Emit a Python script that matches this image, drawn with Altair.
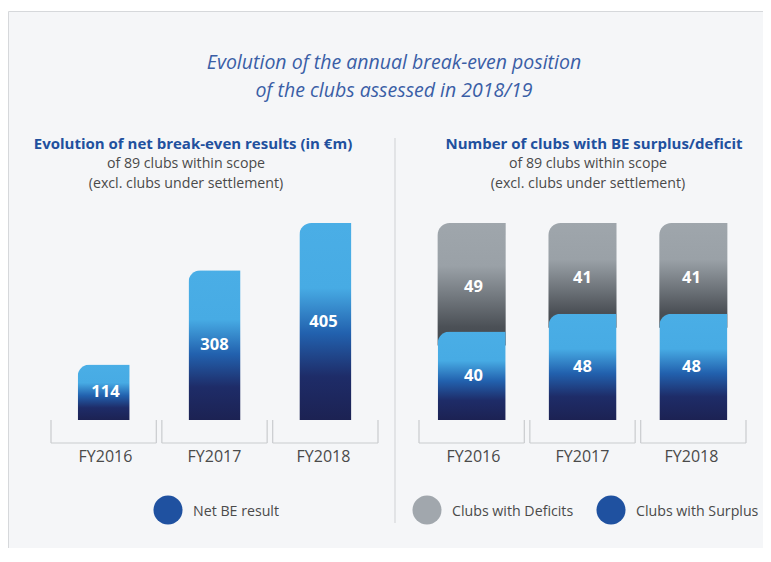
import altair as alt
import pandas as pd

# ---------------- data ----------------
years = ["FY2016", "FY2017", "FY2018"]
net_be = [114, 308, 405]          # net break-even result, EUR m
clubs_surplus = [40, 48, 48]
clubs_deficit = [49, 41, 41]

main_title = ["Evolution of the annual break-even position",
              "of the clubs assessed in 2018/19"]
left_head = "Evolution of net break-even results (in €m)"
right_head = "Number of clubs with BE surplus/deficit"
sub_lines = ["of 89 clubs within scope", "(excl. clubs under settlement)"]
legend_left = "Net BE result"
legend_deficit = "Clubs with Deficits"
legend_surplus = "Clubs with Surplus"

left_df = pd.DataFrame({"year": years, "net": net_be})
right_df = pd.DataFrame({"year": years, "surplus": clubs_surplus, "deficit": clubs_deficit})
one = pd.DataFrame({"k": [0]})

# ---------------- style ----------------
FONT = "Open Sans"
W, H = 755, 540
TITLE_BLUE = "#3a5ea6"
HEAD_BLUE = "#21509e"
TEXT_GREY = "#4a4a4a"
BRACKET = "#c9cbce"

blue_grad = alt.Gradient(
    gradient="linear", x1=0, y1=0, x2=0, y2=1,
    stops=[
        alt.GradientStop(offset=0, color="#4aaee6"),
        alt.GradientStop(offset=0.33, color="#47abe4"),
        alt.GradientStop(offset=0.56, color="#2261ae"),
        alt.GradientStop(offset=0.78, color="#1e2c68"),
        alt.GradientStop(offset=1, color="#1c2253"),
    ],
)
grey_grad = alt.Gradient(
    gradient="linear", x1=0, y1=0, x2=0, y2=1,
    stops=[
        alt.GradientStop(offset=0, color="#9fa6ac"),
        alt.GradientStop(offset=0.35, color="#9aa1a7"),
        alt.GradientStop(offset=0.85, color="#4b5056"),
        alt.GradientStop(offset=1, color="#43474c"),
    ],
)

Y0, YTOP = 412, 215
xl = alt.Scale(domain=years, range=[43, 370], paddingInner=0.05, paddingOuter=0)
xr = alt.Scale(domain=years, range=[411, 738], paddingInner=0.05, paddingOuter=0)
yl = alt.Scale(domain=[0, max(net_be)], range=[Y0, YTOP], nice=False, zero=True)
total_max = max(s + d for s, d in zip(clubs_surplus, clubs_deficit))
yr = alt.Scale(domain=[0, total_max], range=[Y0, YTOP], nice=False, zero=True)

layers = []

# background panel
layers.append(
    alt.Chart(one).mark_rect(fill="#f5f6f8", stroke="#d6d8db", strokeWidth=1).encode(
        x=alt.value(0.5), x2=alt.value(1000), y=alt.value(3.5), y2=alt.value(1000)
    )
)

# titles
layers.append(
    alt.Chart(one).mark_text(text=main_title, font=FONT, fontSize=19.5, fontStyle="italic",
                             color=TITLE_BLUE, align="center", baseline="alphabetic",
                             lineHeight=27.5).encode(x=alt.value(386), y=alt.value(61))
)
for head, hx, sx in [(left_head, 185, 178), (right_head, 586, 580)]:
    layers.append(
        alt.Chart(one).mark_text(text=head, font=FONT, fontSize=15, fontWeight="bold",
                                 color=HEAD_BLUE, align="center", baseline="alphabetic"
                                 ).encode(x=alt.value(hx), y=alt.value(141))
    )
    layers.append(
        alt.Chart(one).mark_text(text=sub_lines, font=FONT, fontSize=14.2, color=TEXT_GREY,
                                 align="center", baseline="alphabetic", lineHeight=19.5
                                 ).encode(x=alt.value(sx), y=alt.value(160))
    )

# divider
layers.append(
    alt.Chart(one).mark_rule(color="#cfd1d4", strokeWidth=1).encode(
        x=alt.value(387), y=alt.value(130), y2=alt.value(515)
    )
)


def brackets(df, xs):
    base = alt.Chart(df)
    return [
        base.mark_rule(color=BRACKET, strokeWidth=1.2).encode(
            x=alt.X("year:N", scale=xs, axis=None, bandPosition=0),
            y=alt.value(Y0), y2=alt.value(435)),
        base.mark_rule(color=BRACKET, strokeWidth=1.2).encode(
            x=alt.X("year:N", scale=xs, axis=None, bandPosition=1),
            y=alt.value(Y0), y2=alt.value(435)),
        base.mark_rule(color=BRACKET, strokeWidth=1.2).encode(
            x=alt.X("year:N", scale=xs, axis=None, bandPosition=0),
            x2=alt.X2("year:N", bandPosition=1),
            y=alt.value(435)),
        base.mark_text(font=FONT, fontSize=16, color=TEXT_GREY, baseline="alphabetic").encode(
            x=alt.X("year:N", scale=xs, axis=None),
            y=alt.value(454), text="year:N"),
    ]


# left chart
layers += brackets(left_df, xl)
layers.append(
    alt.Chart(left_df).mark_bar(fill=blue_grad, width={"band": 0.494},
                                cornerRadiusTopLeft=12).encode(
        x=alt.X("year:N", scale=xl, axis=None),
        y=alt.Y("net:Q", scale=yl, axis=None),
    )
)
layers.append(
    alt.Chart(left_df).transform_calculate(mid="datum.net / 2").mark_text(
        font=FONT, fontSize=16.5, fontWeight="bold", color="white", baseline="middle").encode(
        x=alt.X("year:N", scale=xl, axis=None),
        y=alt.Y("mid:Q", scale=yl, axis=None),
        text="net:Q",
    )
)

# right chart
layers += brackets(right_df, xr)
layers.append(
    alt.Chart(right_df).transform_calculate(total="datum.surplus + datum.deficit").mark_bar(
        fill=grey_grad, width={"band": 0.646}, cornerRadiusTopLeft=12, y2Offset=14).encode(
        x=alt.X("year:N", scale=xr, axis=None),
        y=alt.Y("total:Q", scale=yr, axis=None),
        y2="surplus:Q",
    )
)
layers.append(
    alt.Chart(right_df).mark_bar(fill=blue_grad, width={"band": 0.646},
                                 cornerRadiusTopLeft=12).encode(
        x=alt.X("year:N", scale=xr, axis=None),
        y=alt.Y("surplus:Q", scale=yr, axis=None),
    )
)
layers.append(
    alt.Chart(right_df).transform_calculate(mid="datum.surplus / 2").mark_text(
        font=FONT, fontSize=16.5, fontWeight="bold", color="white", baseline="middle").encode(
        x=alt.X("year:N", scale=xr, axis=None),
        y=alt.Y("mid:Q", scale=yr, axis=None),
        text="surplus:Q",
    )
)
layers.append(
    alt.Chart(right_df).transform_calculate(mid="datum.surplus + datum.deficit / 2").mark_text(
        font=FONT, fontSize=16.5, fontWeight="bold", color="white", baseline="middle", dy=10).encode(
        x=alt.X("year:N", scale=xr, axis=None),
        y=alt.Y("mid:Q", scale=yr, axis=None),
        text="deficit:Q",
    )
)

# legends
for cx, tx, col, lab in [(160, 185, "#1f51a0", legend_left),
                         (419, 444, "#a1a7ad", legend_deficit),
                         (603, 628, "#1f51a0", legend_surplus)]:
    layers.append(
        alt.Chart(one).mark_point(filled=True, shape="circle", size=841, color=col, opacity=1).encode(
            x=alt.value(cx), y=alt.value(502))
    )
    layers.append(
        alt.Chart(one).mark_text(text=lab, font=FONT, fontSize=14.2, color=TEXT_GREY,
                                 align="left", baseline="alphabetic").encode(
            x=alt.value(tx), y=alt.value(508))
    )

chart = alt.layer(*layers).resolve_scale(x="independent", y="independent").properties(
    width=W, height=H, padding=0, background="white",
    autosize=alt.AutoSizeParams(type="none"),
).configure_view(stroke=None)

chart.save("out.html", embed_options={"renderer": "svg", "actions": False})
